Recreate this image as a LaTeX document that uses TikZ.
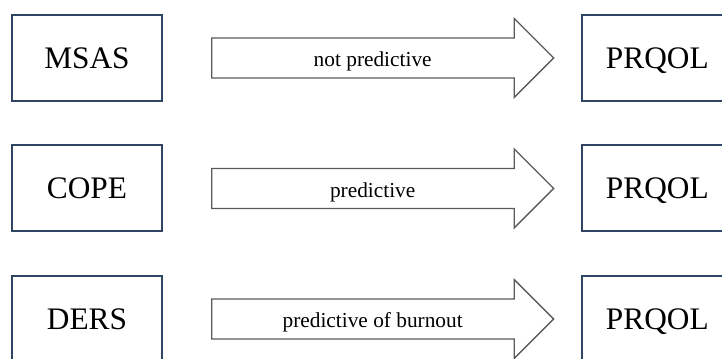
\documentclass[tikz,border=0pt]{standalone}
\usepackage{fontspec}
\setmainfont{Liberation Serif}
\usetikzlibrary{positioning,shapes.arrows}
\definecolor{boxline}{HTML}{2F4563}
\definecolor{arrowline}{HTML}{5A5A5A}
\begin{document}
\begin{tikzpicture}[x=0.75pt,y=-0.75pt,
  scalebox/.style={draw=boxline,line width=1.5pt,minimum width=112.5pt,
    minimum height=64.5pt,inner sep=0pt,text height=15.6pt,text depth=0pt,
    font=\fontsize{23.5}{28}\selectfont},
  linkarrow/.style={draw=arrowline,line width=1pt,single arrow,
    single arrow tip angle=90,single arrow head extend=14.6pt,
    minimum width=59.25pt,minimum height=256.5pt,inner xsep=0pt,
    inner ysep=7.5pt,text height=13.5pt,text depth=0.5pt,
    font=\fontsize{16}{19}\selectfont}]
\clip (0,0) rectangle (722,359);

\node[scalebox] (msas) at (87,58) {MSAS};
\node[scalebox] (cope) at (87,188.5) {COPE};
\node[scalebox] (ders) at (87,319) {DERS};

\node[linkarrow,right=36pt of msas] (a1) {not predictive};
\node[linkarrow,right=36pt of cope] (a2) {predictive};
\node[linkarrow,right=36pt of ders] (a3) {predictive of burnout};

\node[scalebox,right=20pt of a1] (q1) {PRQOL};
\node[scalebox,right=20pt of a2] (q2) {PRQOL};
\node[scalebox,right=20pt of a3] (q3) {PRQOL};
\end{tikzpicture}
\end{document}
